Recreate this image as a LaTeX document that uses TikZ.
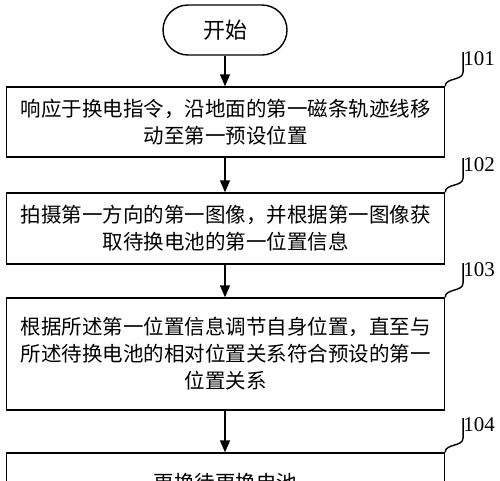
\documentclass[tikz,border=0pt]{standalone}
\usepackage{fontspec}
\setmainfont{Liberation Serif}
\newfontfamily\cjk{Noto Sans CJK SC}
\usetikzlibrary{arrows.meta,shapes.misc,calc}
\tikzset{
  stepbox/.style={draw, line width=1.4pt, minimum width=438pt, inner sep=0pt,
    align=center, font=\cjk\fontsize{20.5}{27}\selectfont},
  startbox/.style={draw, line width=1.4pt, rounded rectangle, minimum width=124pt,
    minimum height=50pt, inner sep=0pt, font=\cjk\fontsize{22}{26}\selectfont},
  numlabel/.style={inner sep=0pt, font=\fontsize{21}{24}\selectfont},
  flow/.style={line width=1.4pt, -{Triangle[length=12pt,width=10pt]}},
  leader/.style={line width=1.4pt}
}
\begin{document}
\begin{tikzpicture}[x=1pt,y=-1pt]
  \useasboundingbox (0,0) rectangle (500,480);
  \fill[white] (0,0) rectangle (500,480);
  % start and steps
  \node[startbox] (start) at (225,30) {开始};
  \node[stepbox, minimum height=70pt] (s1) at (225.5,122)
    {响应于换电指令，沿地面的第一磁条轨迹线移\\动至第一预设位置};
  \node[stepbox, minimum height=71pt] (s2) at (225.5,228.5)
    {拍摄第一方向的第一图像，并根据第一图像获\\取待换电池的第一位置信息};
  \node[stepbox, minimum height=112pt] (s3) at (225.5,354)
    {根据所述第一位置信息调节自身位置，直至与\\所述待换电池的相对位置关系符合预设的第一\\位置关系};
  \node[stepbox, minimum height=60pt] (s4) at (225.5,483)
    {更换待更换电池};
  % step numbers
  \node[numlabel] (n1) at (479,59) {101};
  \node[numlabel] (n2) at (479,165) {102};
  \node[numlabel] (n3) at (479,270) {103};
  \node[numlabel] (n4) at (479,425) {104};
  % arrows
  \draw[flow] (start.south) -- (start.south |- s1.north);
  \draw[flow] (start.south |- s1.south) -- (start.south |- s2.north);
  \draw[flow] (start.south |- s2.south) -- (start.south |- s3.north);
  \draw[flow] (start.south |- s3.south) -- (start.south |- s4.north);
  % leaders
  \foreach \i in {1,...,4}
    \draw[leader] (s\i.north east) .. controls +(0,-9) and +(0,9) ..
      ($(n\i.west)+(0,13)$) -- ($(n\i.west)+(0,-7)$);
\end{tikzpicture}
\end{document}
